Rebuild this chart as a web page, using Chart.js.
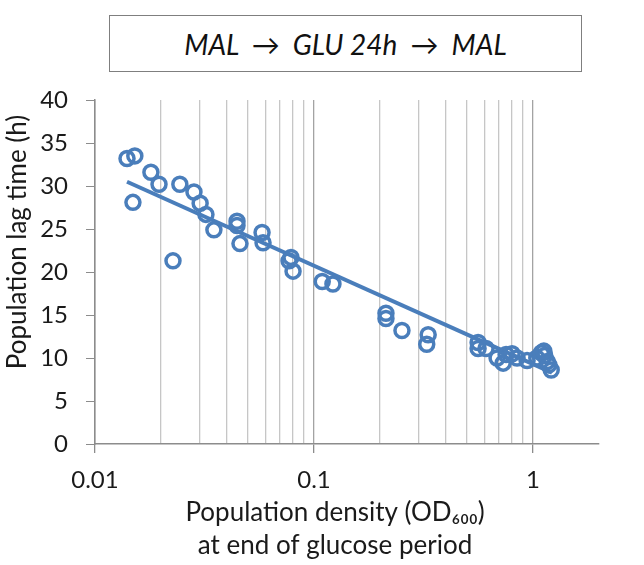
<!DOCTYPE html>
<html>
<head>
<meta charset="utf-8">
<script src="https://cdn.jsdelivr.net/npm/chart.js@4.4.1/dist/chart.umd.min.js"></script>
<style>
  html, body { margin: 0; padding: 0; background: #fff; }
  #wrap { position: relative; width: 644px; height: 565px; }
  #box {
    position: absolute; left: 109px; top: 15px; width: 473px; height: 57px;
    border: 1px solid #7f7f7f; box-sizing: border-box;
    font-family: Lato, "Open Sans", sans-serif; font-style: italic; font-size: 28px;
    color: #111; display: flex; align-items: center; justify-content: center;
    white-space: pre;
  }
  canvas { position: absolute; left: 0; top: 0; }
</style>
</head>
<body>
<div id="wrap">
  <div id="box">MAL  →  GLU 24h  →  MAL</div>
  <canvas id="c" width="644" height="565"></canvas>
</div>
<script>
// Population density (OD600) at end of glucose period
const densityOD = [0.0140, 0.0152, 0.0149, 0.0180, 0.0196, 0.0227, 0.0244, 0.0283, 0.0302, 0.0321,
                   0.0349, 0.0445, 0.0445, 0.0459, 0.0579, 0.0585, 0.0785, 0.0769, 0.0802, 0.109,
                   0.122, 0.213, 0.213, 0.252, 0.332, 0.327, 0.561, 0.561, 0.610, 0.685,
                   0.730, 0.753, 0.802, 0.845, 0.939, 1.04, 1.09, 1.13, 1.16, 1.18,
                   1.21, 1.12];
// Population lag time (h)
const lagTime = [33.2, 33.5, 28.1, 31.6, 30.2, 21.3, 30.2, 29.3, 28.0, 26.7,
                 24.9, 25.9, 25.4, 23.3, 24.6, 23.4, 21.7, 21.3, 20.1, 18.9,
                 18.6, 15.2, 14.6, 13.2, 12.7, 11.6, 11.8, 11.1, 11.1, 10.0,
                 9.4, 10.4, 10.5, 10.0, 9.7, 10.0, 10.6, 10.3, 9.6, 9.2,
                 8.6, 10.8];
// Logarithmic trendline end points
const trendX = [0.0140, 1.22];
const trendY = [30.5, 8.3];
// Axis ticks
const xTickValues = [0.01,0.02,0.03,0.04,0.05,0.06,0.07,0.08,0.09,
                     0.1,0.2,0.3,0.4,0.5,0.6,0.7,0.8,0.9,1];
const xMajorTicks = [0.01, 0.1, 1];
// Axis titles
const yTitleText = 'Population lag time (h)';
const xTitleLines = ['Population density (OD\u2086\u2080\u2080)', 'at end of glucose period'];

const blue = '#4a7ebb';
const axisGrey = '#8c8c8c';
const textColor = '#1a1a1a';
const fam = 'Lato, "Open Sans", sans-serif';
const tickFont = { family: fam, size: 24 };

const axisTitles = {
  id: 'axisTitles',
  afterDraw(chart) {
    const ctx = chart.ctx;
    const area = chart.chartArea;
    ctx.save();
    ctx.fillStyle = textColor;
    ctx.font = '26px ' + fam;
    ctx.textAlign = 'center';
    ctx.textBaseline = 'middle';
    const cx = (area.left + area.right) / 2 - 12;
    xTitleLines.forEach((t, i) => ctx.fillText(t, cx, area.bottom + 69 + i * 33));
    ctx.translate(18, (area.top + area.bottom) / 2 - 30);
    ctx.rotate(-Math.PI / 2);
    ctx.fillText(yTitleText, 0, 0);
    ctx.restore();
  }
};

new Chart(document.getElementById('c'), {
  type: 'scatter',
  plugins: [axisTitles],
  data: {
    datasets: [
      {
        label: 'trend',
        type: 'line',
        data: trendX.map((x, i) => ({ x, y: trendY[i] })),
        borderColor: blue,
        borderWidth: 4,
        pointRadius: 0,
        fill: false,
        order: 2
      },
      {
        label: 'lag',
        data: densityOD.map((x, i) => ({ x, y: lagTime[i] })),
        pointStyle: 'circle',
        pointRadius: 7,
        pointBorderWidth: 3.5,
        borderColor: blue,
        backgroundColor: 'rgba(0,0,0,0)',
        order: 1
      }
    ]
  },
  options: {
    responsive: false,
    animation: false,
    layout: { padding: { top: 100, right: 45, left: 0, bottom: 0 } },
    plugins: { legend: { display: false }, tooltip: { enabled: false } },
    scales: {
      x: {
        type: 'logarithmic',
        min: 0.01,
        max: 2,
        afterBuildTicks: (scale) => {
          scale.ticks = xTickValues.map(v => ({ value: v, major: xMajorTicks.includes(v) }));
        },
        afterFit: (scale) => { scale.height = 565 - 444; },
        ticks: {
          autoSkip: false,
          maxRotation: 0,
          padding: 13,
          color: textColor,
          font: tickFont,
          callback: (v) => xMajorTicks.includes(v) ? String(v) : ''
        },
        grid: {
          drawOnChartArea: true,
          drawTicks: true,
          tickLength: 9,
          lineWidth: 1.3,
          color: (ctx) => (ctx.tick && xMajorTicks.includes(ctx.tick.value)) ? '#a3a3a3' : '#c6c6c6',
          tickColor: (ctx) => (ctx.tick && xMajorTicks.includes(ctx.tick.value)) ? axisGrey : 'rgba(0,0,0,0)'
        },
        border: { display: true, color: axisGrey, width: 1.5 },
        title: { display: false }
      },
      y: {
        min: 0,
        max: 40,
        afterFit: (scale) => { scale.width = 95; },
        ticks: { stepSize: 5, padding: 18, color: textColor, font: tickFont },
        grid: {
          drawOnChartArea: false,
          drawTicks: true,
          tickLength: 9,
          tickColor: axisGrey
        },
        border: { display: true, color: axisGrey, width: 1.5 },
        title: { display: false }
      }
    }
  }
});
</script>
</body>
</html>
